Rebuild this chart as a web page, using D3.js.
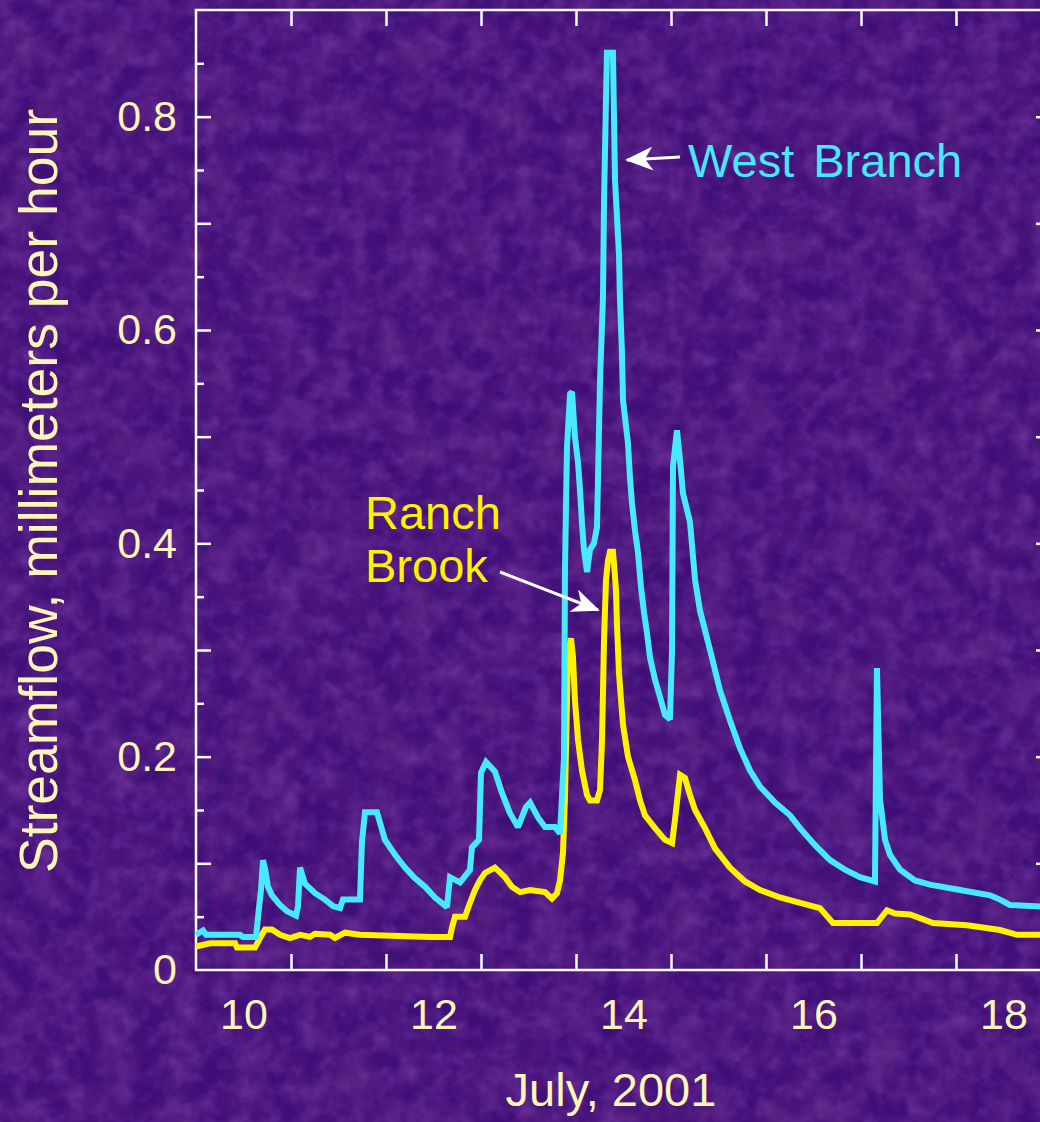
<!DOCTYPE html>
<html>
<head>
<meta charset="utf-8">
<script src="https://cdn.jsdelivr.net/npm/d3@7"></script>
<style>
  body { margin: 0; background: #3e0e74; }
  svg { display: block; }
  text { font-family: "Liberation Sans", Arial, Helvetica, sans-serif; }
</style>
</head>
<body>
<div id="chart"></div>
<script>
// Streamflow data, day of July 2001 (fractional) and mm per hour
let westDay = [10.0, 10.074, 10.105, 10.463, 10.495, 10.632, 10.663, 10.684, 10.705, 10.726, 10.758, 10.8, 10.884, 10.958, 11.053,
  11.074, 11.095, 11.147, 11.253, 11.358, 11.442, 11.516, 11.547, 11.726, 11.747, 11.779, 11.905, 11.989, 12.095, 12.2,
  12.305, 12.411, 12.516, 12.642, 12.674, 12.779, 12.884, 12.905, 12.979, 13.0, 13.053, 13.147, 13.221, 13.305, 13.389,
  13.474, 13.516, 13.6, 13.674, 13.779, 13.832, 13.874, 13.884, 13.905, 13.937, 13.958, 13.989, 14.021, 14.042, 14.063,
  14.084, 14.116, 14.147, 14.189, 14.221, 14.253, 14.284, 14.295, 14.316, 14.326, 14.389, 14.4, 14.411, 14.453, 14.463,
  14.484, 14.495, 14.547, 14.568, 14.589, 14.621, 14.653, 14.684, 14.716, 14.747, 14.779, 14.832, 14.884, 14.937, 14.989,
  15.011, 15.021, 15.063, 15.095, 15.126, 15.2, 15.253, 15.305, 15.411, 15.516, 15.621, 15.726, 15.832, 15.937, 16.095,
  16.253, 16.358, 16.516, 16.674, 16.832, 16.989, 17.147, 17.168, 17.2, 17.253, 17.305, 17.411, 17.568, 17.726, 18.042,
  18.358, 18.463, 18.568, 19.0];
let westFlow = [0.033, 0.037, 0.033, 0.033, 0.031, 0.031, 0.058, 0.075, 0.103, 0.095, 0.078, 0.070, 0.061, 0.055, 0.051,
  0.060, 0.096, 0.081, 0.072, 0.066, 0.060, 0.058, 0.066, 0.066, 0.120, 0.148, 0.148, 0.122, 0.108, 0.096,
  0.086, 0.078, 0.068, 0.059, 0.087, 0.082, 0.094, 0.115, 0.122, 0.185, 0.195, 0.186, 0.166, 0.147, 0.134,
  0.153, 0.157, 0.143, 0.134, 0.134, 0.128, 0.200, 0.375, 0.490, 0.540, 0.542, 0.500, 0.476, 0.450, 0.419,
  0.394, 0.373, 0.394, 0.400, 0.415, 0.553, 0.630, 0.720, 0.818, 0.860, 0.860, 0.800, 0.740, 0.670, 0.628,
  0.578, 0.534, 0.494, 0.462, 0.438, 0.412, 0.391, 0.359, 0.335, 0.316, 0.293, 0.272, 0.256, 0.239, 0.235,
  0.300, 0.472, 0.506, 0.478, 0.447, 0.420, 0.366, 0.337, 0.300, 0.262, 0.234, 0.208, 0.187, 0.172, 0.157,
  0.145, 0.133, 0.117, 0.103, 0.094, 0.087, 0.083, 0.283, 0.160, 0.122, 0.108, 0.094, 0.084, 0.080, 0.075,
  0.070, 0.066, 0.061, 0.059];

let ranchDay = [10.0, 10.147, 10.411, 10.432, 10.621, 10.674, 10.726, 10.8, 10.884, 10.989, 11.095, 11.2, 11.253, 11.411,
  11.463, 11.568, 11.726, 12.463, 12.674, 12.695, 12.726, 12.832, 12.884, 12.937, 12.989, 13.042, 13.147, 13.253, 13.326,
  13.411, 13.516, 13.674, 13.747, 13.8, 13.832, 13.863, 13.884, 13.916, 13.947, 13.968, 13.989, 14.021, 14.063, 14.116,
  14.147, 14.221, 14.253, 14.274, 14.295, 14.316, 14.337, 14.358, 14.389, 14.4, 14.421, 14.432, 14.453, 14.474, 14.495,
  14.547, 14.621, 14.674, 14.726, 14.832, 14.937, 15.011, 15.042, 15.095, 15.147, 15.2, 15.253, 15.358, 15.463, 15.621,
  15.779, 15.937, 16.147, 16.358, 16.568, 16.705, 17.168, 17.274, 17.358, 17.516, 17.758, 18.116, 18.463, 18.642, 19.0];
let ranchFlow = [0.022, 0.025, 0.025, 0.021, 0.021, 0.030, 0.038, 0.038, 0.033, 0.030, 0.033, 0.031, 0.034, 0.033,
  0.030, 0.035, 0.033, 0.031, 0.031, 0.040, 0.050, 0.050, 0.063, 0.075, 0.084, 0.091, 0.096, 0.087, 0.078,
  0.073, 0.075, 0.073, 0.067, 0.072, 0.084, 0.110, 0.162, 0.295, 0.311, 0.294, 0.253, 0.216, 0.187, 0.164,
  0.159, 0.159, 0.169, 0.216, 0.309, 0.366, 0.384, 0.392, 0.392, 0.381, 0.356, 0.322, 0.278, 0.253, 0.230,
  0.200, 0.178, 0.159, 0.145, 0.133, 0.122, 0.119, 0.141, 0.183, 0.180, 0.164, 0.150, 0.133, 0.114, 0.096,
  0.083, 0.075, 0.068, 0.063, 0.058, 0.044, 0.044, 0.056, 0.053, 0.052, 0.044, 0.042, 0.0375, 0.033, 0.033];

let dayLabels = [10, 12, 14, 16, 18];
let flowLabels = [0, 0.2, 0.4, 0.6, 0.8];

let textColor = "#fbf6b8";
let westColor = "#48e8ff";
let ranchColor = "#fff200";

let Chart = () => {
  d3.select("#chart").selectAll("*").remove();
  let margin = {top: 10, left: 196};
  let width = 855, height = 960;

  let root = d3.select("#chart")
    .append("svg")
    .attr("width", 1040)
    .attr("height", 1122);

  // textured purple background: dark blotches + faint lighter mottling
  let defs = root.append("defs");
  let grain = (id, freq, seed, rgb, a, b) => {
    let f = defs.append("filter").attr("id", id)
      .attr("x", 0).attr("y", 0).attr("width", "100%").attr("height", "100%");
    f.append("feTurbulence")
      .attr("type", "fractalNoise")
      .attr("baseFrequency", freq)
      .attr("numOctaves", 3)
      .attr("seed", seed);
    f.append("feColorMatrix")
      .attr("type", "matrix")
      .attr("values", "0 0 0 0 " + rgb[0] + "  0 0 0 0 " + rgb[1] + "  0 0 0 0 " + rgb[2] + "  " + a + " 0 0 0 " + b);
  };
  grain("dark", 0.03, 3, [0.12, 0.02, 0.25], 1.5, -0.5);
  grain("light", 0.06, 11, [0.33, 0.1, 0.6], 0.6, -0.24);

  root.append("rect").attr("width", 1040).attr("height", 1122).attr("fill", "#3f0e76");
  root.append("rect").attr("width", 1040).attr("height", 1122).attr("filter", "url(#dark)");
  root.append("rect").attr("width", 1040).attr("height", 1122).attr("filter", "url(#light)");

  let svg = root.append("g")
    .attr("transform", "translate(" + margin.left + "," + margin.top + ")");

  let x = d3.scaleLinear().domain([10, 19]).range([0, width]);
  let y = d3.scaleLinear().domain([0, 0.9]).range([height, 0]);

  let styleTicks = g => {
    g.select(".domain").remove();
    g.selectAll(".tick line").attr("stroke", "#fff").attr("stroke-width", 2.5);
  };

  // day boundary ticks, top and bottom
  let dayTicks = d3.range(11, 19);
  svg.append("g").attr("transform", "translate(0," + height + ")")
    .call(d3.axisBottom(x).tickValues(dayTicks).tickSize(-16).tickFormat(""))
    .call(styleTicks);
  svg.append("g")
    .call(d3.axisTop(x).tickValues(dayTicks).tickSize(-16).tickFormat(""))
    .call(styleTicks);

  // flow ticks, left and right
  let major = d3.range(1, 9).map(d => d / 10);
  let minor = d3.range(0, 9).map(d => d / 10 + 0.05);
  [[d3.axisLeft, 0], [d3.axisRight, width]].forEach(([ax, tx]) => {
    svg.append("g").attr("transform", "translate(" + tx + ",0)")
      .call(ax(y).tickValues(major).tickSize(-15).tickFormat(""))
      .call(styleTicks);
    svg.append("g").attr("transform", "translate(" + tx + ",0)")
      .call(ax(y).tickValues(minor).tickSize(-8).tickFormat(""))
      .call(styleTicks);
  });

  // tick labels
  let xl = svg.append("g").attr("transform", "translate(0," + height + ")")
    .call(d3.axisBottom(x).tickValues(dayLabels.map(d => d + 0.5)).tickSize(0).tickPadding(28)
      .tickFormat(d => Math.floor(d)));
  xl.select(".domain").remove();
  xl.selectAll("text").attr("fill", textColor).attr("font-size", 43).attr("font-family", null);

  let yl = svg.append("g")
    .call(d3.axisLeft(y).tickValues(flowLabels).tickSize(0).tickPadding(19)
      .tickFormat(d => d === 0 ? "0" : d.toFixed(1)));
  yl.select(".domain").remove();
  yl.selectAll("text").attr("fill", textColor).attr("font-size", 43).attr("font-family", null);

  // frame
  svg.append("rect")
    .attr("width", width).attr("height", height)
    .attr("fill", "none").attr("stroke", "#fff").attr("stroke-width", 2.5);

  // series
  let line = d3.line()
    .x(d => x(d[0]))
    .y(d => y(d[1]));
  svg.append("path")
    .attr("d", line(ranchDay.map((d, i) => [d, ranchFlow[i]])))
    .attr("fill", "none").attr("stroke", ranchColor)
    .attr("stroke-width", 6).attr("stroke-miterlimit", 2);
  svg.append("path")
    .attr("d", line(westDay.map((d, i) => [d, westFlow[i]])))
    .attr("fill", "none").attr("stroke", westColor)
    .attr("stroke-width", 6).attr("stroke-miterlimit", 2);

  // axis titles
  root.append("text")
    .attr("x", 611).attr("y", 1106)
    .attr("text-anchor", "middle")
    .attr("fill", textColor).attr("font-size", 47)
    .text("July, 2001");
  root.append("text")
    .attr("transform", "translate(57,491) rotate(-90)")
    .attr("text-anchor", "middle")
    .attr("fill", textColor).attr("font-size", 53.5)
    .text("Streamflow, millimeters per hour");

  // annotations
  defs.append("marker").attr("id", "head")
    .attr("viewBox", "0 -6 14 12")
    .attr("refX", 13).attr("refY", 0)
    .attr("markerWidth", 10).attr("markerHeight", 8)
    .attr("markerUnits", "strokeWidth")
    .attr("orient", "auto")
    .append("path")
    .attr("d", "M0,-6 L14,0 L0,6 L4,0 Z")
    .attr("fill", "#fff");

  root.append("line")
    .attr("x1", 680).attr("y1", 157).attr("x2", 627).attr("y2", 160)
    .attr("stroke", "#fff").attr("stroke-width", 3).attr("marker-end", "url(#head)");
  root.append("text")
    .attr("x", 688).attr("y", 177)
    .attr("fill", westColor).attr("font-size", 47)
    .attr("word-spacing", 6)
    .text("West Branch");

  root.append("line")
    .attr("x1", 500).attr("y1", 572).attr("x2", 598).attr("y2", 610)
    .attr("stroke", "#fff").attr("stroke-width", 3).attr("marker-end", "url(#head)");
  root.append("text")
    .attr("x", 365).attr("y", 529)
    .attr("fill", ranchColor).attr("font-size", 47)
    .text("Ranch");
  root.append("text")
    .attr("x", 365).attr("y", 582)
    .attr("fill", ranchColor).attr("font-size", 47)
    .text("Brook");
};

Chart();
</script>
</body>
</html>
